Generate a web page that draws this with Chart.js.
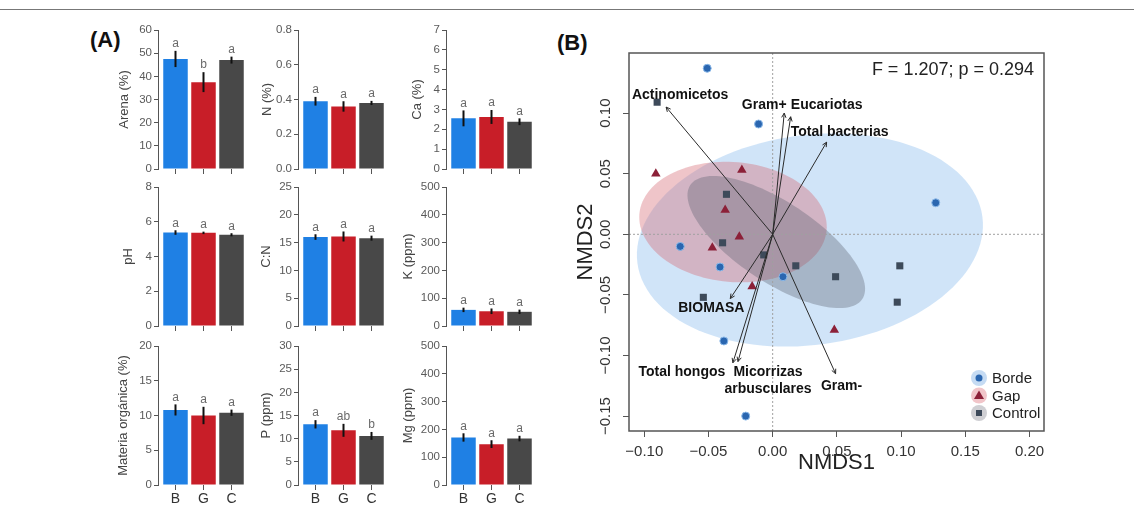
<!DOCTYPE html>
<html>
<head>
<meta charset="utf-8">
<script src="https://cdn.jsdelivr.net/npm/chart.js@4.4.0/dist/chart.umd.min.js"></script>
<style>
  body { margin: 0; width: 1134px; height: 517px; position: relative; overflow: hidden; background: #fff;
         font-family: 'Liberation Sans', Arial, sans-serif; }
  canvas { position: absolute; }
  .tag { position: absolute; font-weight: bold; font-size: 22px; color: #111; }
  #frameTop { position: absolute; left: 0; top: 9px; width: 1134px; height: 1px; background: #777; }
</style>
</head>
<body>
<div id="frameTop"></div>
<div class="tag" style="left:90px; top:27px;">(A)</div>
<div class="tag" style="left:557px; top:30px;">(B)</div>

<script>
// ---- panel A: soil properties by site (mean +- SE) ----
const groups = ['B', 'G', 'C'];
const barColors = ['#1f80e4', '#c81e28', '#484848'];

const arena = [47.5, 37.5, 47.0];
const arenaSE = [3.5, 4.3, 1.5];
const arenaSig = ['a', 'b', 'a'];

const nitrogen = [0.39, 0.36, 0.38];
const nitrogenSE = [0.025, 0.03, 0.012];
const nitrogenSig = ['a', 'a', 'a'];

const calcium = [2.55, 2.62, 2.38];
const calciumSE = [0.4, 0.35, 0.17];
const calciumSig = ['a', 'a', 'a'];

const ph = [5.38, 5.36, 5.25];
const phSE = [0.13, 0.07, 0.09];
const phSig = ['a', 'a', 'a'];

const cn = [16.0, 16.1, 15.8];
const cnSE = [0.5, 0.9, 0.45];
const cnSig = ['a', 'a', 'a'];

const potassium = [58, 53, 51];
const potassiumSE = [8, 10, 8];
const potassiumSig = ['a', 'a', 'a'];

const organic = [10.8, 10.0, 10.4];
const organicSE = [0.8, 1.25, 0.45];
const organicSig = ['a', 'a', 'a'];

const phosphorus = [13.1, 11.8, 10.6];
const phosphorusSE = [0.9, 1.4, 0.85];
const phosphorusSig = ['a', 'ab', 'b'];

const magnesium = [171, 147, 167];
const magnesiumSE = [15, 14, 10];
const magnesiumSig = ['a', 'a', 'a'];

// ---- panel B: NMDS ordination ----
const bordeX = [-0.051, -0.011, 0.127, -0.072, -0.041, 0.008, -0.038, -0.021];
const bordeY = [0.137, 0.091, 0.026, -0.010, -0.027, -0.035, -0.088, -0.150];
const gapX = [-0.091, -0.024, -0.037, -0.026, -0.047, -0.016, 0.048];
const gapY = [0.050, 0.053, 0.020, -0.002, -0.011, -0.043, -0.079];
const controlX = [-0.090, -0.036, -0.039, -0.007, 0.018, 0.049, -0.054, 0.099, 0.097];
const controlY = [0.109, 0.033, -0.007, -0.017, -0.026, -0.035, -0.052, -0.026, -0.056];

// ellipse: centre x, centre y, first half-axis (x, y), second half-axis (x, y)
const bordeEllipse = [0.029, -0.0047, 0.1343, 0.0194, 0.0111, -0.0858];
const gapEllipse = [-0.0309, 0.0101, 0.0729, -0.0068, -0.0041, -0.0493];
const controlEllipse = [0.0028, -0.0064, 0.0670, -0.0470, -0.0172, -0.0276];

const vectorNames = ['Actinomicetos', 'Gram+', 'Eucariotas', 'Total bacterias', 'BIOMASA',
                     'Total hongos', 'Micorrizas\narbusculares', 'Gram-'];
const vectorX = [-0.083, 0.009, 0.014, 0.042, -0.033, -0.031, -0.027, 0.049];
const vectorY = [0.105, 0.100, 0.097, 0.076, -0.053, -0.106, -0.105, -0.115];

const nmdsXTicks = [-0.10, -0.05, 0.00, 0.05, 0.10, 0.15, 0.20];
const nmdsYTicks = [-0.15, -0.10, -0.05, 0.00, 0.05, 0.10];
const statText = 'F = 1.207; p = 0.294';

// label placement relative to arrow tips (px)
const vectorLabelShift = [[14, -12], [-20, -8], [36, -12], [13, -10], [-19, 10], [-51, 9], [30, 11], [6, 12]];

const FONT = "'Liberation Sans', Arial, sans-serif";
Chart.defaults.font.family = FONT;

const rows = [{ top: 30, bottom: 169 }, { top: 187, bottom: 326 }, { top: 346, bottom: 485 }];
const cols = [158, 298, 446];

const panels = [
  { r: 0, c: 0, max: 60, step: 10, title: 'Arena (%)', gap: 34, mean: arena, se: arenaSE, sig: arenaSig },
  { r: 0, c: 1, max: 0.8, step: 0.2, dec: 1, title: 'N (%)', gap: 31, mean: nitrogen, se: nitrogenSE, sig: nitrogenSig },
  { r: 0, c: 2, max: 7, step: 1, title: 'Ca (%)', gap: 29, mean: calcium, se: calciumSE, sig: calciumSig },
  { r: 1, c: 0, max: 8, step: 2, title: 'pH', gap: 30, mean: ph, se: phSE, sig: phSig },
  { r: 1, c: 1, max: 25, step: 5, title: 'C:N', gap: 31.5, mean: cn, se: cnSE, sig: cnSig },
  { r: 1, c: 2, max: 500, step: 100, title: 'K (ppm)', gap: 38, mean: potassium, se: potassiumSE, sig: potassiumSig },
  { r: 2, c: 0, max: 20, step: 5, title: 'Materia orgánica (%)', gap: 35, mean: organic, se: organicSE, sig: organicSig },
  { r: 2, c: 1, max: 30, step: 5, title: 'P (ppm)', gap: 31.5, mean: phosphorus, se: phosphorusSE, sig: phosphorusSig },
  { r: 2, c: 2, max: 500, step: 100, title: 'Mg (ppm)', gap: 38, mean: magnesium, se: magnesiumSE, sig: magnesiumSig },
];

function addCanvas(left, top, w, h) {
  const cv = document.createElement('canvas');
  cv.width = w; cv.height = h;
  cv.style.left = left + 'px'; cv.style.top = top + 'px';
  cv.style.width = w + 'px'; cv.style.height = h + 'px';
  document.body.appendChild(cv);
  return cv;
}

// error bars and significance letters on top of each bar
const errorBars = p => ({
  id: 'errorBars',
  afterDatasetsDraw(chart) {
    const { ctx, scales: { x, y } } = chart;
    ctx.save();
    p.mean.forEach((m, i) => {
      const px = x.getPixelForValue(i);
      const hi = y.getPixelForValue(m + p.se[i]);
      const lo = y.getPixelForValue(m - p.se[i]);
      ctx.strokeStyle = '#111';
      ctx.lineWidth = 2;
      ctx.beginPath(); ctx.moveTo(px, lo); ctx.lineTo(px, hi); ctx.stroke();
      ctx.fillStyle = '#6a6a6a';
      ctx.font = '12px ' + FONT;
      ctx.textAlign = 'center';
      ctx.textBaseline = 'middle';
      ctx.fillText(p.sig[i], px, hi - 7);
    });
    ctx.restore();
  }
});

const AXW = 60, PADT = 12, XH = 30;
panels.forEach(p => {
  const axisX = cols[p.c], row = rows[p.r];
  const cv = addCanvas(axisX - AXW, row.top - PADT, AXW + 95, row.bottom - row.top + PADT + XH);
  new Chart(cv, {
    type: 'bar',
    data: {
      datasets: [{
        data: p.mean.map((v, i) => ({ x: i, y: v })),
        backgroundColor: barColors,
        borderWidth: 0,
        barPercentage: 0.875,
        categoryPercentage: 1
      }]
    },
    options: {
      responsive: false, animation: false, devicePixelRatio: 1, events: [],
      layout: { padding: { left: 0, top: PADT, right: 4, bottom: 0 } },
      plugins: { legend: { display: false }, tooltip: { enabled: false } },
      scales: {
        x: {
          type: 'linear', min: -0.625, max: 2.625, offset: false,
          afterBuildTicks: s => { s.ticks = groups.map((g, i) => ({ value: i })); },
          afterFit: s => { s.height = XH; },
          border: { display: false },
          grid: { offset: false, drawOnChartArea: false, drawTicks: true, tickLength: 5, color: '#555' },
          ticks: { display: p.r === 2, callback: v => groups[v], color: '#333', font: { size: 14 },
                   padding: 1, autoSkip: false, maxRotation: 0 }
        },
        y: {
          min: 0, max: p.max,
          afterFit: s => { s.width = AXW; },
          border: { display: true, color: '#555', width: 1 },
          grid: { drawOnChartArea: false, drawTicks: true, tickLength: 4, color: '#555' },
          ticks: { stepSize: p.step, color: '#5a5a5a', font: { size: 11.5 }, padding: 2,
                   callback: v => v.toFixed(p.dec || 0) },
          title: { display: true, text: p.title, color: '#444', font: { size: 13 },
                   padding: { top: AXW - p.gap - 7.8, bottom: 0 } }
        }
      }
    },
    plugins: [errorBars(p)]
  });
});

// ---- NMDS plot ----
const signed = v => (v < 0 ? '\u2212' : '') + Math.abs(v).toFixed(2);

function traceEllipse(ctx, x, y, e) {
  ctx.beginPath();
  for (let k = 0; k <= 120; k++) {
    const t = k / 120 * Math.PI * 2;
    const dx = e[0] + Math.cos(t) * e[2] + Math.sin(t) * e[4];
    const dy = e[1] + Math.cos(t) * e[3] + Math.sin(t) * e[5];
    const px = x.getPixelForValue(dx), py = y.getPixelForValue(dy);
    if (k) ctx.lineTo(px, py); else ctx.moveTo(px, py);
  }
  ctx.closePath();
}

const nmdsExtras = {
  id: 'nmdsExtras',
  beforeDatasetsDraw(chart) {
    const { ctx, chartArea: a, scales: { x, y } } = chart;
    ctx.save();
    ctx.beginPath(); ctx.rect(a.left, a.top, a.right - a.left, a.bottom - a.top); ctx.clip();
    [[bordeEllipse, 'rgba(150,195,240,0.45)'],
     [gapEllipse, 'rgba(215,110,120,0.40)'],
     [controlEllipse, 'rgba(90,95,110,0.35)']].forEach(([e, col]) => {
      traceEllipse(ctx, x, y, e);
      ctx.fillStyle = col;
      ctx.fill();
    });
    // zero reference lines
    ctx.strokeStyle = '#a0a0a0';
    ctx.lineWidth = 1;
    ctx.setLineDash([2, 2]);
    const x0 = x.getPixelForValue(0), y0 = y.getPixelForValue(0);
    ctx.beginPath();
    ctx.moveTo(x0, a.top); ctx.lineTo(x0, a.bottom);
    ctx.moveTo(a.left, y0); ctx.lineTo(a.right, y0);
    ctx.stroke();
    ctx.restore();
  },
  afterDatasetsDraw(chart) {
    const { ctx, chartArea: a, scales: { x, y } } = chart;
    ctx.save();
    // fitted vectors
    const ox = x.getPixelForValue(0), oy = y.getPixelForValue(0);
    ctx.strokeStyle = '#2a2a2a';
    ctx.lineWidth = 1;
    vectorX.forEach((vx, i) => {
      const tx = x.getPixelForValue(vx), ty = y.getPixelForValue(vectorY[i]);
      const ang = Math.atan2(ty - oy, tx - ox);
      ctx.beginPath();
      ctx.moveTo(ox, oy); ctx.lineTo(tx, ty);
      ctx.moveTo(tx - 5 * Math.cos(ang - 0.45), ty - 5 * Math.sin(ang - 0.45));
      ctx.lineTo(tx, ty);
      ctx.lineTo(tx - 5 * Math.cos(ang + 0.45), ty - 5 * Math.sin(ang + 0.45));
      ctx.stroke();
    });
    ctx.fillStyle = '#111';
    ctx.font = 'bold 14px ' + FONT;
    ctx.textAlign = 'center';
    ctx.textBaseline = 'middle';
    vectorNames.forEach((name, i) => {
      const tx = x.getPixelForValue(vectorX[i]), ty = y.getPixelForValue(vectorY[i]);
      const [sx, sy] = vectorLabelShift[i];
      name.split('\n').forEach((line, j) => ctx.fillText(line, tx + sx, ty + sy + j * 16.5));
    });
    // plot box
    ctx.strokeStyle = '#555';
    ctx.lineWidth = 1.5;
    ctx.strokeRect(a.left, a.top, a.right - a.left, a.bottom - a.top);
    // rotated y tick labels
    ctx.fillStyle = '#333';
    ctx.font = '15px ' + FONT;
    y.ticks.forEach(t => {
      ctx.save();
      ctx.translate(a.left - 23, y.getPixelForValue(t.value));
      ctx.rotate(-Math.PI / 2);
      ctx.fillText(signed(t.value), 0, 0);
      ctx.restore();
    });
    // statistic
    ctx.textAlign = 'right';
    ctx.font = '18px ' + FONT;
    ctx.fillStyle = '#222';
    ctx.fillText(statText, a.right - 10, a.top + 17);
    // legend
    const items = [
      ['Borde', '#c5dbf3', '#2a66b0', 'circle'],
      ['Gap', '#f1c5c9', '#8c2038', 'triangle'],
      ['Control', '#cfcfd3', '#3d4a5a', 'rect']
    ];
    ctx.textAlign = 'left';
    ctx.font = '15px ' + FONT;
    items.forEach(([label, halo, col, shape], i) => {
      const lx = a.right - 65, ly = a.bottom - 53 + i * 17.5;
      ctx.fillStyle = halo;
      ctx.beginPath(); ctx.arc(lx, ly, 8, 0, Math.PI * 2); ctx.fill();
      ctx.fillStyle = col;
      ctx.beginPath();
      if (shape === 'circle') ctx.arc(lx, ly, 3.5, 0, Math.PI * 2);
      else if (shape === 'triangle') { ctx.moveTo(lx, ly - 5); ctx.lineTo(lx + 5, ly + 3.5); ctx.lineTo(lx - 5, ly + 3.5); ctx.closePath(); }
      else ctx.rect(lx - 3, ly - 3, 6, 6);
      ctx.fill();
      ctx.fillStyle = '#222';
      ctx.fillText(label, lx + 13, ly + 1);
    });
    ctx.restore();
  }
};

const nmdsCanvas = addCanvas(540, 20, 594, 497);
new Chart(nmdsCanvas, {
  type: 'scatter',
  data: {
    datasets: [
      { label: 'Borde', data: bordeX.map((v, i) => ({ x: v, y: bordeY[i] })), pointStyle: 'circle',
        pointRadius: 4, pointBackgroundColor: '#2a66b0', pointBorderColor: '#8ab8e8', pointBorderWidth: 1 },
      { label: 'Gap', data: gapX.map((v, i) => ({ x: v, y: gapY[i] })), pointStyle: 'triangle',
        pointRadius: 5.5, pointBackgroundColor: '#8c2038', pointBorderColor: '#8c2038', pointBorderWidth: 0 },
      { label: 'Control', data: controlX.map((v, i) => ({ x: v, y: controlY[i] })), pointStyle: 'rect',
        pointRadius: 5, pointBackgroundColor: '#3d4a5a', pointBorderColor: '#3d4a5a', pointBorderWidth: 0 }
    ]
  },
  options: {
    responsive: false, animation: false, devicePixelRatio: 1, events: [],
    layout: { padding: { left: 20, top: 33, right: 90, bottom: 34 } },
    plugins: { legend: { display: false }, tooltip: { enabled: false } },
    scales: {
      x: {
        type: 'linear', min: -0.1119, max: 0.2113,
        afterBuildTicks: s => { s.ticks = nmdsXTicks.map(v => ({ value: v })); },
        afterFit: s => { s.height = 52; },
        border: { display: false },
        grid: { drawOnChartArea: false, drawTicks: true, tickLength: 6, color: '#555' },
        ticks: { color: '#333', font: { size: 15 }, padding: 6, maxRotation: 0, autoSkip: false, callback: v => signed(v) },
        title: { display: true, text: 'NMDS1', color: '#222', font: { size: 22 }, padding: { top: 0, bottom: 6.8 } }
      },
      y: {
        type: 'linear', min: -0.1623, max: 0.1496,
        afterBuildTicks: s => { s.ticks = nmdsYTicks.map(v => ({ value: v })); },
        afterFit: s => { s.width = 69; },
        border: { display: false },
        grid: { drawOnChartArea: false, drawTicks: true, tickLength: 6, color: '#555' },
        ticks: { callback: () => '' },
        title: { display: true, text: 'NMDS2', color: '#222', font: { size: 22 }, padding: { top: 12.4, bottom: 0 } }
      }
    }
  },
  plugins: [nmdsExtras]
});
</script>
</body>
</html>
